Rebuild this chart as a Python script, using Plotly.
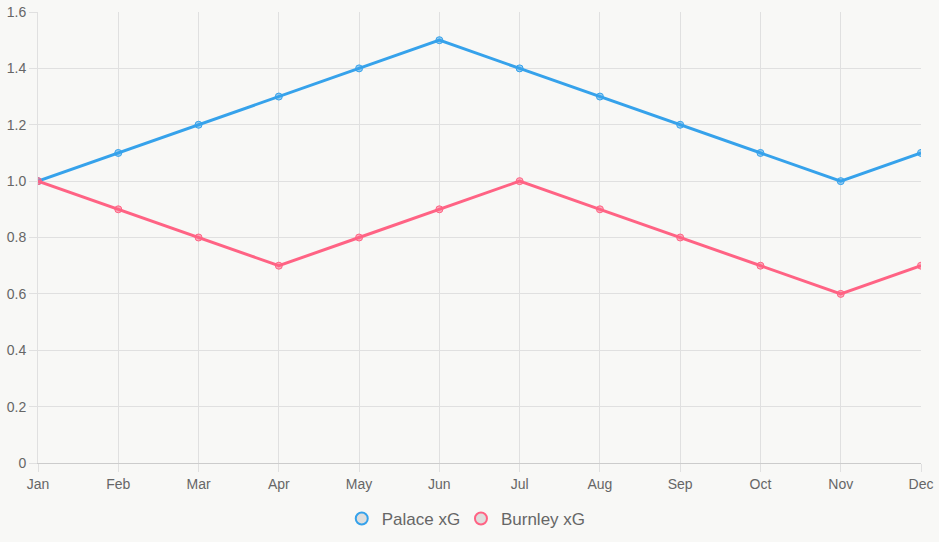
import plotly.graph_objects as go

months = ["Jan", "Feb", "Mar", "Apr", "May", "Jun", "Jul", "Aug", "Sep", "Oct", "Nov", "Dec"]
palace_xg = [1.0, 1.1, 1.2, 1.3, 1.4, 1.5, 1.4, 1.3, 1.2, 1.1, 1.0, 1.1]
burnley_xg = [1.0, 0.9, 0.8, 0.7, 0.8, 0.9, 1.0, 0.9, 0.8, 0.7, 0.6, 0.7]
y_tickvals = [0, 0.2, 0.4, 0.6, 0.8, 1.0, 1.2, 1.4, 1.6]
y_ticktext = ["0", "0.2", "0.4", "0.6", "0.8", "1.0", "1.2", "1.4", "1.6"]

BLUE = "#36a2eb"
PINK = "#ff6384"
GRID = "#e0e0e0"
TXT = "#666666"
BG = "#f8f8f6"

fig = go.Figure()
for name, vals, col, fill in [
    ("Palace xG", palace_xg, BLUE, "rgba(54,162,235,0.5)"),
    ("Burnley xG", burnley_xg, PINK, "rgba(255,99,132,0.5)"),
]:
    fig.add_trace(go.Scatter(
        x=months, y=vals, mode="lines+markers", name=name, showlegend=False,
        line=dict(color=col, width=3),
        marker=dict(size=7, color=fill, line=dict(color=col, width=1)),
        hoverinfo="x+y",
    ))
for name, col, lg in [("Palace xG", BLUE, "legend"), ("Burnley xG", PINK, "legend2")]:
    fig.add_trace(go.Scatter(
        x=[None], y=[None], mode="markers", name=name, legend=lg,
        marker=dict(size=15, color="rgba(0,0,0,0.1)", line=dict(color=col, width=1.5)),
    ))

leg_common = dict(
    orientation="h", xanchor="left", y=-0.084, yanchor="top",
    font=dict(size=17, color=TXT), itemsizing="constant", bgcolor="rgba(0,0,0,0)",
)

fig.update_layout(
    width=939, height=542,
    paper_bgcolor=BG, plot_bgcolor=BG,
    margin=dict(l=38, r=18, t=12, b=79, autoexpand=False),
    font=dict(family="Liberation Sans, Arial, sans-serif", color=TXT, size=13),
    xaxis=dict(
        type="category", range=[0, 11], showgrid=True, gridcolor=GRID, gridwidth=1,
        ticks="outside", ticklen=8, tickcolor=GRID, showline=True, linecolor="#cccccc",
        tickfont=dict(size=14, color=TXT), zeroline=False, automargin=False,
    ),
    yaxis=dict(
        range=[0, 1.6], tickvals=y_tickvals, ticktext=y_ticktext,
        showgrid=True, gridcolor=GRID, gridwidth=1,
        ticks="outside", ticklen=8, tickcolor=GRID, showline=True, linecolor=GRID,
        tickfont=dict(size=14, color=TXT), zeroline=False, automargin=False,
    ),
    legend=dict(x=0.344, **leg_common),
    legend2=dict(x=0.479, **leg_common),
    showlegend=True,
)

fig.write_html("out.html")
